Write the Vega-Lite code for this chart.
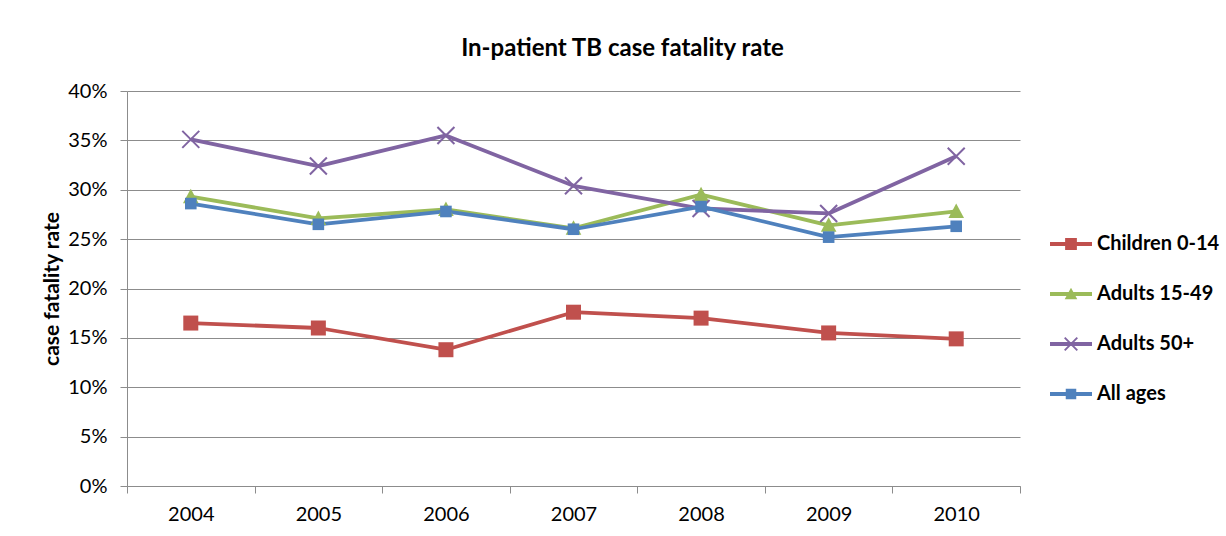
{
  "$schema": "https://vega.github.io/schema/vega-lite/v6.json",
  "autosize": {"type": "none"},
  "padding": {"left": 127, "top": 91, "right": 206, "bottom": 50},
  "width": 893,
  "height": 395,
  "background": "white",
  "title": {
    "text": "In-patient TB case fatality rate",
    "font": "Lato",
    "fontSize": 24,
    "fontWeight": "bold",
    "color": "black",
    "anchor": "middle",
    "frame": "group",
    "dx": 49,
    "baseline": "alphabetic",
    "offset": 1
  },
  "config": {
    "view": {"stroke": null},
    "font": "Lato",
    "axis": {
      "labelFont": "Lato",
      "labelFontSize": 20,
      "labelColor": "black",
      "domainColor": "#8c8c8c",
      "tickColor": "#8c8c8c",
      "gridColor": "#8c8c8c",
      "gridWidth": 1,
      "domainWidth": 1,
      "tickWidth": 1,
      "tickSize": 7,
      "titleFont": "Lato",
      "titleColor": "black"
    }
  },
  "data": {
    "values": [
      {"year": "2004", "series": "Children 0-14", "rate": 0.165},
      {"year": "2005", "series": "Children 0-14", "rate": 0.160},
      {"year": "2006", "series": "Children 0-14", "rate": 0.138},
      {"year": "2007", "series": "Children 0-14", "rate": 0.176},
      {"year": "2008", "series": "Children 0-14", "rate": 0.170},
      {"year": "2009", "series": "Children 0-14", "rate": 0.155},
      {"year": "2010", "series": "Children 0-14", "rate": 0.149},
      {"year": "2004", "series": "Adults 15-49", "rate": 0.293},
      {"year": "2005", "series": "Adults 15-49", "rate": 0.271},
      {"year": "2006", "series": "Adults 15-49", "rate": 0.280},
      {"year": "2007", "series": "Adults 15-49", "rate": 0.261},
      {"year": "2008", "series": "Adults 15-49", "rate": 0.295},
      {"year": "2009", "series": "Adults 15-49", "rate": 0.264},
      {"year": "2010", "series": "Adults 15-49", "rate": 0.278},
      {"year": "2004", "series": "Adults 50+", "rate": 0.351},
      {"year": "2005", "series": "Adults 50+", "rate": 0.324},
      {"year": "2006", "series": "Adults 50+", "rate": 0.355},
      {"year": "2007", "series": "Adults 50+", "rate": 0.304},
      {"year": "2008", "series": "Adults 50+", "rate": 0.281},
      {"year": "2009", "series": "Adults 50+", "rate": 0.276},
      {"year": "2010", "series": "Adults 50+", "rate": 0.334},
      {"year": "2004", "series": "All ages", "rate": 0.286},
      {"year": "2005", "series": "All ages", "rate": 0.265},
      {"year": "2006", "series": "All ages", "rate": 0.278},
      {"year": "2007", "series": "All ages", "rate": 0.260},
      {"year": "2008", "series": "All ages", "rate": 0.283},
      {"year": "2009", "series": "All ages", "rate": 0.252},
      {"year": "2010", "series": "All ages", "rate": 0.263}
    ]
  },
  "encoding": {
    "x": {
      "field": "year",
      "type": "ordinal",
      "scale": {"type": "band", "paddingInner": 0, "paddingOuter": 0},
      "axis": {
        "title": null,
        "labelAngle": 0,
        "tickBand": "extent",
        "grid": false,
        "labelPadding": 11
      }
    },
    "y": {
      "field": "rate",
      "type": "quantitative",
      "scale": {"domain": [0, 0.4], "nice": false},
      "axis": {
        "title": "case fatality rate",
        "titleFontSize": 21,
        "titleFontWeight": "bold",
        "titlePadding": 5,
        "format": ".0%",
        "values": [0, 0.05, 0.1, 0.15, 0.2, 0.25, 0.3, 0.35, 0.4],
        "labelPadding": 13,
        "grid": true
      }
    }
  },
  "layer": [
    {
      "mark": {"type": "line", "strokeWidth": 3.8, "strokeJoin": "round"},
      "encoding": {
        "color": {
          "field": "series",
          "type": "nominal",
          "scale": {
            "domain": ["Children 0-14", "Adults 15-49", "Adults 50+", "All ages"],
            "range": ["#C0504D", "#9BBB59", "#8064A2", "#4F81BD"]
          }
        }
      }
    },
    {
      "transform": [{"filter": "datum.series == 'Children 0-14'"}],
      "mark": {"type": "point", "filled": true, "opacity": 1, "size": 400, "color": "#C0504D", "shape": "M-0.75,-0.75H0.75V0.75H-0.75Z"}
    },
    {
      "transform": [{"filter": "datum.series == 'Adults 15-49'"}],
      "mark": {"type": "point", "filled": true, "opacity": 1, "size": 400, "color": "#9BBB59", "shape": "M0,-0.8L0.78,0.65L-0.78,0.65Z"}
    },
    {
      "transform": [{"filter": "datum.series == 'Adults 50+'"}],
      "mark": {"type": "point", "filled": true, "opacity": 1, "size": 400, "color": "#8064A2", "shape": "M-0.779,-0.921L0.921,0.779L0.779,0.921L-0.921,-0.779Z M-0.921,0.779L0.779,-0.921L0.921,-0.779L-0.779,0.921Z"}
    },
    {
      "transform": [{"filter": "datum.series == 'All ages'"}],
      "mark": {"type": "point", "filled": true, "opacity": 1, "size": 400, "color": "#4F81BD", "shape": "M-0.58,-0.58H0.58V0.58H-0.58Z"}
    },
    {
      "transform": [{"filter": "false"}],
      "mark": {"type": "point", "filled": true, "opacity": 1},
      "encoding": {
        "color": {
          "field": "series",
          "type": "nominal",
          "scale": {
            "domain": ["Children 0-14", "Adults 15-49", "Adults 50+", "All ages"],
            "range": ["#C0504D", "#9BBB59", "#8064A2", "#4F81BD"]
          },
          "legend": {
            "orient": "none",
            "legendX": 923,
            "legendY": 132,
            "title": null,
            "padding": 0,
            "symbolSize": 1764,
            "symbolStrokeWidth": 0,
            "symbolOpacity": 1,
            "labelFont": "Lato",
            "labelFontSize": 20,
            "labelFontWeight": "bold",
            "labelColor": "black",
            "labelOffset": 5,
            "rowPadding": 19,
            "labelLimit": 300
          }
        },
        "shape": {
          "field": "series",
          "type": "nominal",
          "scale": {
            "domain": ["Children 0-14", "Adults 15-49", "Adults 50+", "All ages"],
            "range": [
              "M-1,-0.09H1V0.09H-1Z M-0.28,-0.28H0.28V0.28H-0.28Z",
              "M-1,-0.09H1V0.09H-1Z M0,-0.3L0.3,0.25L-0.3,0.25Z",
              "M-1,-0.09H1V0.09H-1Z M-0.268,-0.332L0.332,0.268L0.268,0.332L-0.332,-0.268Z M-0.332,0.268L0.268,-0.332L0.332,-0.268L-0.268,0.332Z",
              "M-1,-0.09H1V0.09H-1Z M-0.25,-0.25H0.25V0.25H-0.25Z"
            ]
          },
          "legend": {
            "orient": "none",
            "legendX": 923,
            "legendY": 132,
            "title": null,
            "padding": 0,
            "symbolSize": 1764,
            "symbolStrokeWidth": 0,
            "symbolOpacity": 1,
            "labelFont": "Lato",
            "labelFontSize": 20,
            "labelFontWeight": "bold",
            "labelColor": "black",
            "labelOffset": 5,
            "rowPadding": 19,
            "labelLimit": 300
          }
        }
      }
    }
  ]
}
